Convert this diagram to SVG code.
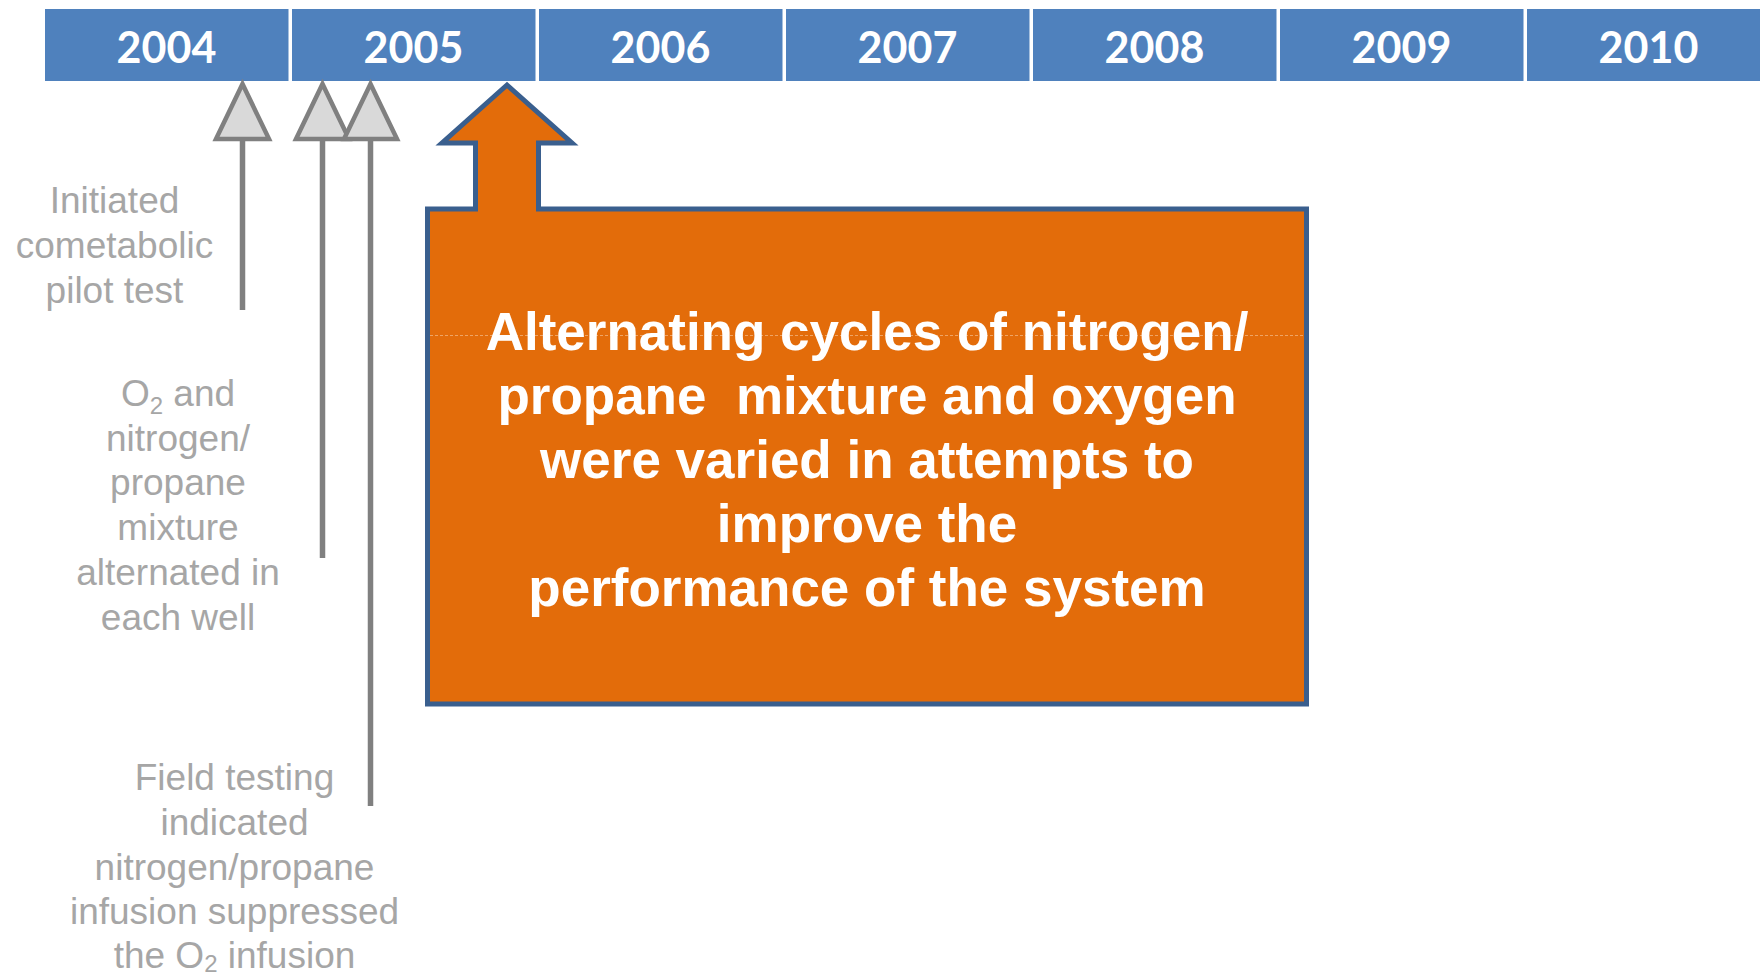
<svg xmlns="http://www.w3.org/2000/svg" width="1760" height="976" viewBox="0 0 1760 976">
  <style>
    .bar { fill: #4F81BD; }
    .year { font-family: Lato, "Open Sans", sans-serif; font-weight: 700; font-size: 43px; fill: #FFFFFF; text-anchor: middle; }
    .note { font-family: "Liberation Sans", Arial, sans-serif; font-size: 37px; fill: #A6A6A6; text-anchor: middle; }
    .sub { font-size: 24px; }
    .shaft { stroke: #808080; stroke-width: 5.5; fill: none; marker-end: url(#tri); }
    .callout { fill: #E36C0A; stroke: #3A5F8E; stroke-width: 5; stroke-linejoin: miter; }
    .ctext { font-family: "Liberation Sans", Arial, sans-serif; font-weight: 700; font-size: 53px; fill: #FFFFFF; text-anchor: middle; white-space: pre; }
  </style>
  <defs>
    <marker id="tri" markerUnits="userSpaceOnUse" orient="auto" refX="0" refY="0" markerWidth="80" markerHeight="80" viewBox="-10 -40 80 80" overflow="visible">
      <path d="M0,-26.5 L55,0 L0,26.5 Z" fill="#D9D9D9" stroke="#808080" stroke-width="4.5" stroke-linejoin="miter"/>
    </marker>
  </defs>
  <rect width="1760" height="976" fill="#FFFFFF"/>

  <g id="timeline">
    <g id="y2004"><rect class="bar" x="45" y="9" width="243.5" height="72"/><text class="year" x="166.5" y="63">2004</text></g>
    <g id="y2005"><rect class="bar" x="292" y="9" width="243.5" height="72"/><text class="year" x="413.5" y="63">2005</text></g>
    <g id="y2006"><rect class="bar" x="539" y="9" width="243.5" height="72"/><text class="year" x="660.5" y="63">2006</text></g>
    <g id="y2007"><rect class="bar" x="786" y="9" width="243.5" height="72"/><text class="year" x="907.5" y="63">2007</text></g>
    <g id="y2008"><rect class="bar" x="1033" y="9" width="243.5" height="72"/><text class="year" x="1154.5" y="63">2008</text></g>
    <g id="y2009"><rect class="bar" x="1280" y="9" width="243.5" height="72"/><text class="year" x="1401.5" y="63">2009</text></g>
    <g id="y2010"><rect class="bar" x="1527" y="9" width="243.5" height="72"/><text class="year" x="1648.5" y="63">2010</text></g>
  </g>

  <g id="connectors">
    <line class="shaft" x1="242.5" y1="310" x2="242.5" y2="139"/>
    <line class="shaft" x1="322.5" y1="558" x2="322.5" y2="139"/>
    <line class="shaft" x1="370.5" y1="806" x2="370.5" y2="139"/>
  </g>

  <g id="note1">
    <text class="note" x="114.5" y="213">Initiated</text>
    <text class="note" x="114.5" y="258">cometabolic</text>
    <text class="note" x="114.5" y="302.5">pilot test</text>
  </g>

  <g id="note2">
    <text class="note" x="178" y="405.5">O<tspan class="sub" dy="8">2</tspan><tspan dy="-8"> and</tspan></text>
    <text class="note" x="178" y="450.5">nitrogen/</text>
    <text class="note" x="178" y="495">propane</text>
    <text class="note" x="178" y="539.5">mixture</text>
    <text class="note" x="178" y="584.5">alternated in</text>
    <text class="note" x="178" y="629.5">each well</text>
  </g>

  <g id="note3">
    <text class="note" x="234.5" y="790">Field testing</text>
    <text class="note" x="234.5" y="835">indicated</text>
    <text class="note" x="234.5" y="879.5">nitrogen/propane</text>
    <text class="note" x="234.5" y="924">infusion suppressed</text>
    <text class="note" x="234.5" y="967.5">the O<tspan class="sub" dy="4.5">2</tspan><tspan dy="-4.5"> infusion</tspan></text>
  </g>

  <g id="callout">
    <path class="callout" d="M507,85 L572,143 L538.5,143 L538.5,209 L1306.5,209 L1306.5,704 L427.5,704 L427.5,209 L475.5,209 L475.5,143 L442,143 Z"/>
    <line x1="430" y1="335.5" x2="1304" y2="335.5" stroke="#F3B27C" stroke-width="1" stroke-dasharray="3 2" opacity="0.8"/>
    <text class="ctext" x="867" y="350">Alternating cycles of nitrogen/</text>
    <text class="ctext" x="867" y="414">propane  mixture and oxygen</text>
    <text class="ctext" x="867" y="478">were varied in attempts to</text>
    <text class="ctext" x="867" y="542">improve the</text>
    <text class="ctext" x="867" y="606">performance of the system</text>
  </g>
</svg>
